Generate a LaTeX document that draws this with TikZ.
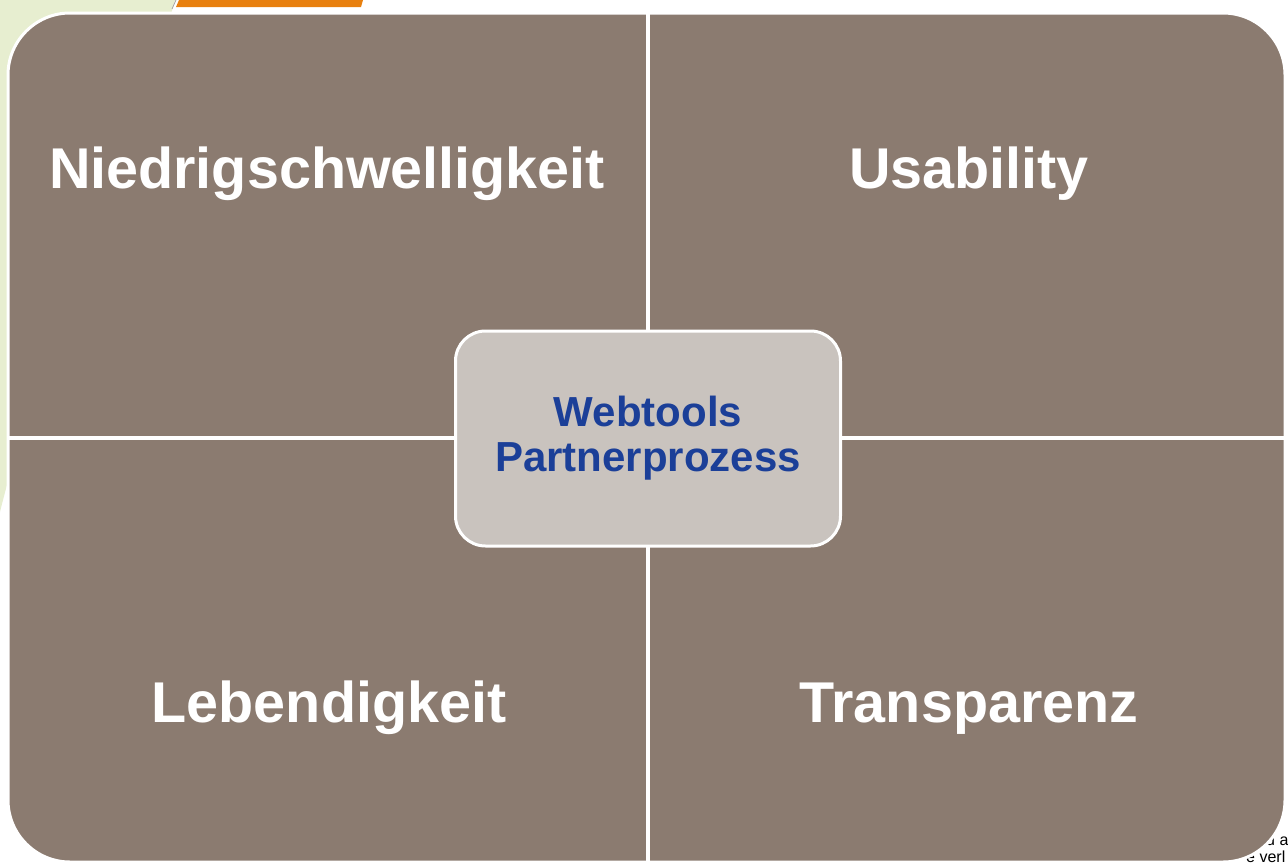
\documentclass[tikz,border=0pt]{standalone}
\usepackage{fontspec}
\setmainfont{Liberation Sans}
\definecolor{quadbrown}{HTML}{8B7B70}
\definecolor{centerfill}{HTML}{C9C3BE}
\definecolor{textblue}{HTML}{1B3F98}
\definecolor{bggreen}{HTML}{E7EED0}
\definecolor{barorange}{HTML}{E8800F}
\begin{document}
\begin{tikzpicture}[x=1pt,y=-1pt,
  quadlabel/.style={text=white,font=\bfseries\fontsize{57.5}{60}\selectfont,anchor=base,inner sep=0pt},
  divider/.style={draw=white,line width=4pt},
  bgtext/.style={text=black,font=\fontsize{16}{18}\selectfont,anchor=base west,inner sep=0pt}]
\useasboundingbox (0,0) rectangle (1288,865);
\fill[white] (0,0) rectangle (1288,865);
% background fragments
\fill[bggreen] (0,0) -- (175,0) -- (171,14) -- (150,150) -- (30,300) -- (12,460) .. controls (9,480) and (4,495) .. (0,512) -- cycle;
\fill[barorange] (179,0) -- (363,0) -- (361,7) -- (176,7) -- cycle;
\draw[gray!70,line width=0.8pt] (176,0) -- (172,9);
\node (frag1) [bgtext] at (1266,845) {u a};
\node (frag2) [bgtext] at (1246,862) {e verl};
% outer box
\node (outer) [draw=white, line width=3pt, fill=quadbrown, rounded corners=62pt,
  minimum width=1277pt, minimum height=849pt, inner sep=0pt] at (646.5,437.5) {};
% dividers
\coordinate (vtop) at (648,13);
\coordinate (vbot) at (648,862);
\coordinate (hleft) at (8,438);
\coordinate (hright) at (1285,438);
\draw[divider] (vtop) -- (vbot);
\draw[divider] (hleft) -- (hright);
% center box
\node (center) [draw=white, line width=3pt, fill=centerfill, rounded corners=30pt,
  minimum width=385pt, minimum height=215pt, align=center, text=textblue,
  font=\bfseries\fontsize{42}{45}\selectfont, inner sep=0pt] at (648,438.5) {Webtools\\Partnerprozess};
% quadrant labels
\node (nw) [quadlabel] at (327,188) {Niedrigschwelligkeit};
\node (ne) [quadlabel] at (969,188) {Usability};
\node (sw) [quadlabel] at (329,722) {Lebendigkeit};
\node (se) [quadlabel] at (969,722) {Transparenz};
\end{tikzpicture}
\end{document}
